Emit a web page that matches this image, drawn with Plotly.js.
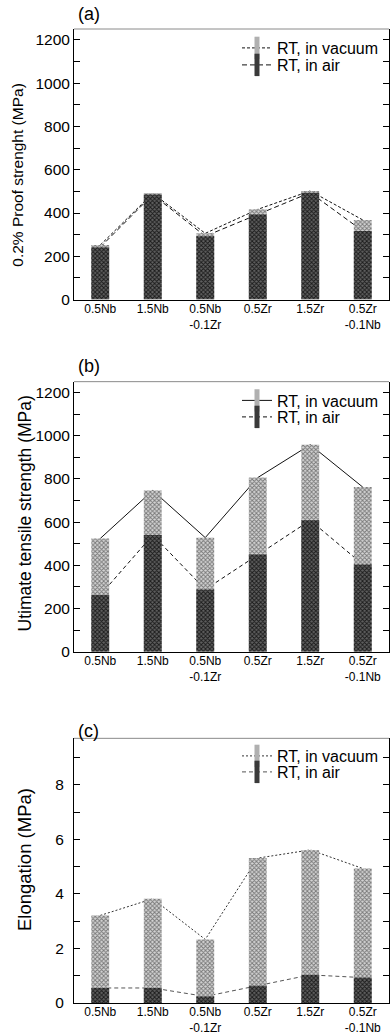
<!DOCTYPE html>
<html>
<head>
<meta charset="utf-8">
<script src="https://cdn.plot.ly/plotly-3.0.1.min.js"></script>
<style>html,body{margin:0;padding:0;background:#fff;}#chart{width:390px;height:1035px;}</style>
</head>
<body>
<div id="chart"></div>
<script>
// ---- data ----
const categories = ['0.5Nb', '1.5Nb', '0.5Nb-0.1Zr', '0.5Zr', '1.5Zr', '0.5Zr-0.1Nb'];
const tickLabels = ['0.5Nb', '1.5Nb', '0.5Nb<br>-0.1Zr', '0.5Zr', '1.5Zr', '0.5Zr<br>-0.1Nb'];
const seriesNames = ['RT, in vacuum', 'RT, in air'];
const panelLabels = ['(a)', '(b)', '(c)'];
const yTitles = ['0.2% Proof strenght (MPa)', 'Utimate tensile strength (MPa)', 'Elongation (MPa)'];
const proofVacuum = [252, 491, 306, 417, 502, 368];
const proofAir = [242, 485, 293, 393, 494, 317];
const utsVacuum = [524, 746, 528, 806, 958, 762];
const utsAir = [262, 540, 288, 450, 608, 404];
const elongVacuum = [3.21, 3.82, 2.33, 5.31, 5.61, 4.93];
const elongAir = [0.55, 0.55, 0.24, 0.63, 1.03, 0.93];

// ---- styling ----
const FONT = 'Liberation Sans, Arial, sans-serif';
const vacPattern = {color: '#bdbdbd', pattern: {shape: 'x', fgcolor: '#777', bgcolor: '#d4d4d4', size: 3, solidity: 0.5}, line: {width: 0}};
const airPattern = {color: '#444', pattern: {shape: 'x', fgcolor: '#1a1a1a', bgcolor: '#606060', size: 3, solidity: 0.5}, line: {width: 0}};

const panels = [
  {vac: proofVacuum, air: proofAir, range: [0, 1250], dtick: 200, minor: 100,
   vacDash: '3px,2px', airDash: '5px,3px', vacColor: '#111', airColor: '#111',
   domain: [0.7233, 1.0], titleX: 16.7, titleY: 175, titleSize: 15.5, labelStand: 0},
  {vac: utsVacuum, air: utsAir, range: [0, 1250], dtick: 200, minor: 100,
   vacDash: 'solid', airDash: '4px,3px', vacColor: '#111', airColor: '#111',
   domain: [0.3633, 0.6394], titleX: 24, titleY: 513.5, titleSize: 17.5, labelStand: 0},
  {vac: elongVacuum, air: elongAir, range: [0, 9.7], dtick: 2, minor: 1,
   vacDash: '2px,2px', airDash: '4px,3px', vacColor: '#333', airColor: '#555',
   domain: [0.0041, 0.2747], titleX: 24, titleY: 860, titleSize: 18.5, labelStand: 6}
];

const data = [];
const layout = {
  width: 390, height: 1035,
  margin: {l: 74, r: 1, t: 29, b: 28},
  paper_bgcolor: '#fff', plot_bgcolor: '#fff',
  font: {family: FONT, color: '#000'},
  showlegend: true,
  barmode: 'overlay',
  shapes: [], annotations: []
};

// legend row centres in px
const legendRows = [[48, 65], [400.5, 417], [756, 772]];
const pxX = px => (px - 74) / 315;
const pxY = py => (1007 - py) / 978;
const labelY = [14, 366, 731];

panels.forEach((p, i) => {
  const n = i + 1;
  const xa = n === 1 ? 'x' : 'x' + n;
  const ya = n === 1 ? 'y' : 'y' + n;
  const yb = 'y' + (n + 3);
  const xKey = n === 1 ? 'xaxis' : 'xaxis' + n;
  const yKey = n === 1 ? 'yaxis' : 'yaxis' + n;
  const ybKey = 'yaxis' + (n + 3);
  const lg1 = 2 * i + 1 === 1 ? 'legend' : 'legend' + (2 * i + 1);
  const lg2 = 'legend' + (2 * i + 2);

  // connecting lines (base subplot, drawn under the bars)
  data.push({type: 'scatter', mode: 'lines', x: categories, y: p.vac, xaxis: xa, yaxis: ya,
    line: {color: p.vacColor, width: 1, dash: p.vacDash}, showlegend: false, hoverinfo: 'skip'});
  data.push({type: 'scatter', mode: 'lines', x: categories, y: p.air, xaxis: xa, yaxis: ya,
    line: {color: p.airColor, width: 1, dash: p.airDash}, showlegend: false, hoverinfo: 'skip'});
  // bars on an overlaying axis so they sit above the lines
  data.push({type: 'bar', x: categories, y: p.vac, xaxis: xa, yaxis: yb, width: 0.34,
    marker: vacPattern, showlegend: false, name: seriesNames[0]});
  data.push({type: 'bar', x: categories, y: p.air, xaxis: xa, yaxis: yb, width: 0.34,
    marker: airPattern, showlegend: false, name: seriesNames[1]});
  // legend entries (line + narrow bar symbol)
  data.push({type: 'scatter', mode: 'lines+markers', x: [null], y: [null], xaxis: xa, yaxis: ya,
    name: seriesNames[0], legend: lg1,
    line: {color: p.vacColor, width: 1, dash: p.vacDash},
    marker: {symbol: 'line-ns', size: 16, line: {width: 5, color: '#b0b0b0'}}});
  data.push({type: 'scatter', mode: 'lines+markers', x: [null], y: [null], xaxis: xa, yaxis: ya,
    name: seriesNames[1], legend: lg2,
    line: {color: p.airColor, width: 1, dash: p.airDash},
    marker: {symbol: 'line-ns', size: 16, line: {width: 5, color: '#3a3a3a'}}});

  const legendBase = {xanchor: 'left', yanchor: 'middle', bgcolor: 'rgba(0,0,0,0)', borderwidth: 0,
    font: {family: FONT, size: 16, color: '#000'}, itemclick: false, itemdoubleclick: false};
  layout[lg1] = Object.assign({x: pxX(237), y: pxY(legendRows[i][0])}, legendBase);
  layout[lg2] = Object.assign({x: pxX(237), y: pxY(legendRows[i][1])}, legendBase);

  layout[xKey] = {
    domain: [0, 1], anchor: ya, type: 'category', range: [-0.5, 5.5],
    showline: true, linecolor: '#000', linewidth: 1, mirror: false,
    ticks: '', showgrid: false, zeroline: false, ticklabelstandoff: -2,
    tickmode: 'array', tickvals: categories, ticktext: tickLabels,
    tickfont: {family: FONT, size: 12, color: '#000'}, fixedrange: true
  };
  layout[yKey] = {
    domain: p.domain, anchor: xa, range: p.range, dtick: p.dtick, tick0: 0,
    ticks: 'inside', ticklen: 6, tickwidth: 1, tickcolor: '#000',
    showline: true, linecolor: '#000', linewidth: 1, mirror: 'ticks',
    showgrid: false, zeroline: false, fixedrange: true, ticklabelstandoff: p.labelStand,
    minor: {dtick: p.minor, tick0: 0, ticks: 'inside', ticklen: 6, tickcolor: '#000', showgrid: false},
    tickfont: {family: FONT, size: 15.5, color: '#000'}
  };
  layout[ybKey] = {overlaying: ya, anchor: xa, range: p.range, visible: false, fixedrange: true};

  // faint top frame
  layout.shapes.push({type: 'line', xref: xa + ' domain', yref: ya + ' domain',
    x0: 0, x1: 1, y0: 1, y1: 1, line: {color: '#8a8a8a', width: 1}});
  // panel letter
  layout.annotations.push({text: panelLabels[i], xref: 'paper', yref: 'paper',
    x: pxX(76), y: pxY(labelY[i]), xanchor: 'left', yanchor: 'middle', showarrow: false,
    font: {family: FONT, size: 18, color: '#000'}});
  // y-axis title
  layout.annotations.push({text: yTitles[i], xref: 'paper', yref: 'paper', textangle: -90,
    x: pxX(p.titleX), y: pxY(p.titleY), xanchor: 'center', yanchor: 'middle', showarrow: false,
    font: {family: FONT, size: p.titleSize, color: '#000'}});
});

Plotly.newPlot('chart', data, layout, {displayModeBar: false, staticPlot: true});
</script>
</body>
</html>
